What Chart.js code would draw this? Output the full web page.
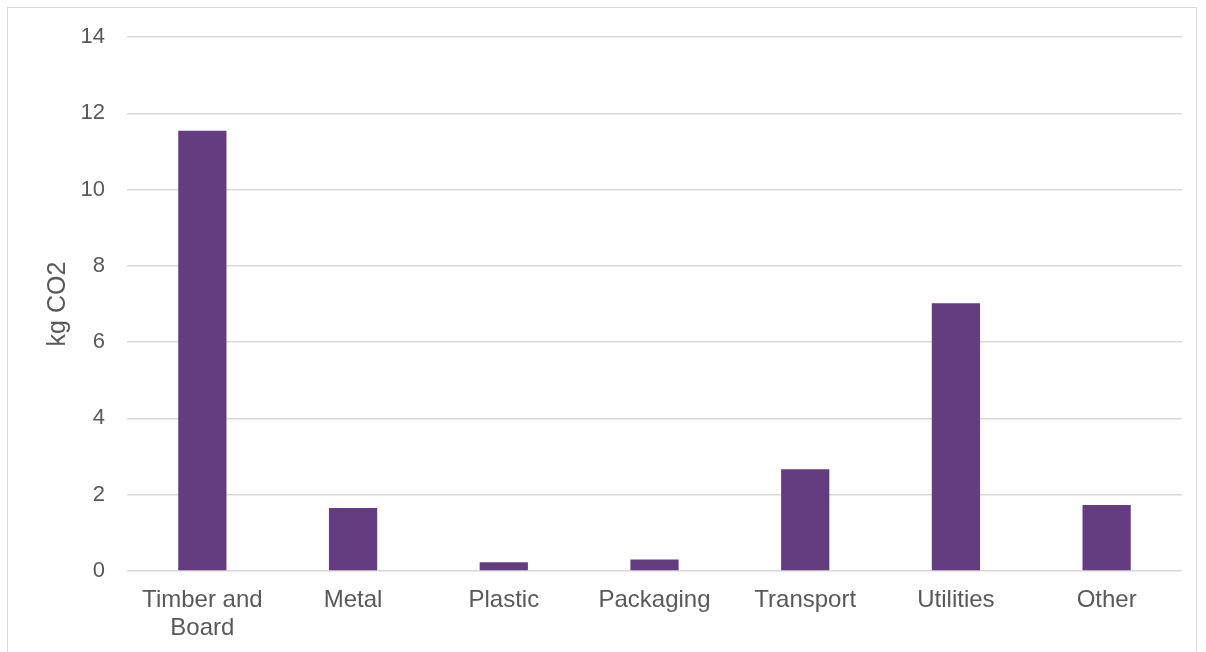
<!DOCTYPE html>
<html>
<head>
<meta charset="utf-8">
<script src="https://cdn.jsdelivr.net/npm/chart.js@4"></script>
<style>
  html, body { margin: 0; padding: 0; background: #fff; }
  .frame { position: absolute; left: 7px; top: 7px; width: 1190px; height: 660px; border: 1.5px solid #d9d9d9; box-sizing: border-box; }
  #chart { position: absolute; left: 0; top: 0; }
</style>
</head>
<body>
<div class="frame"></div>
<canvas id="chart" width="1206" height="652"></canvas>
<script>
const categories = [["Timber and", "Board"], "Metal", "Plastic", "Packaging", "Transport", "Utilities", "Other"];
const emissions = [11.54, 1.65, 0.23, 0.3, 2.67, 7.02, 1.73];
const yTicks = [0, 2, 4, 6, 8, 10, 12, 14];

Chart.defaults.font.family = "'Liberation Sans', Arial, sans-serif";
Chart.defaults.color = "#595959";

new Chart(document.getElementById("chart"), {
    type: "bar",
    data: {
        labels: categories,
        datasets: [
            {
                label: "kg CO2",
                data: emissions,
                backgroundColor: "#643c80",
                barPercentage: 0.64,
                categoryPercentage: 0.5,
            },
        ],
    },
    options: {
        responsive: false,
        animation: false,
        layout: { padding: { left: 43, right: 24, top: 37, bottom: 0 } },
        plugins: {
            legend: { display: false },
            tooltip: { enabled: false },
        },
        scales: {
            x: {
                grid: { display: false },
                border: { display: false },
                ticks: { font: { size: 24, lineHeight: 1.17 }, padding: 7, maxRotation: 0 },
                afterFit(scale) { scale.height = 81; },
            },
            y: {
                min: 0,
                max: 14,
                afterBuildTicks(scale) { scale.ticks = yTicks.map((v) => ({ value: v })); },
                grid: { color: "#d9d9d9", lineWidth: 1.5, drawTicks: false },
                border: { display: false },
                ticks: { font: { size: 22 }, padding: 22 },
                title: { display: true, text: "kg CO2", font: { size: 25, lineHeight: 1.2 }, padding: 0 },
                afterFit(scale) { scale.width = 84; },
            },
        },
    },
});
</script>
</body>
</html>
